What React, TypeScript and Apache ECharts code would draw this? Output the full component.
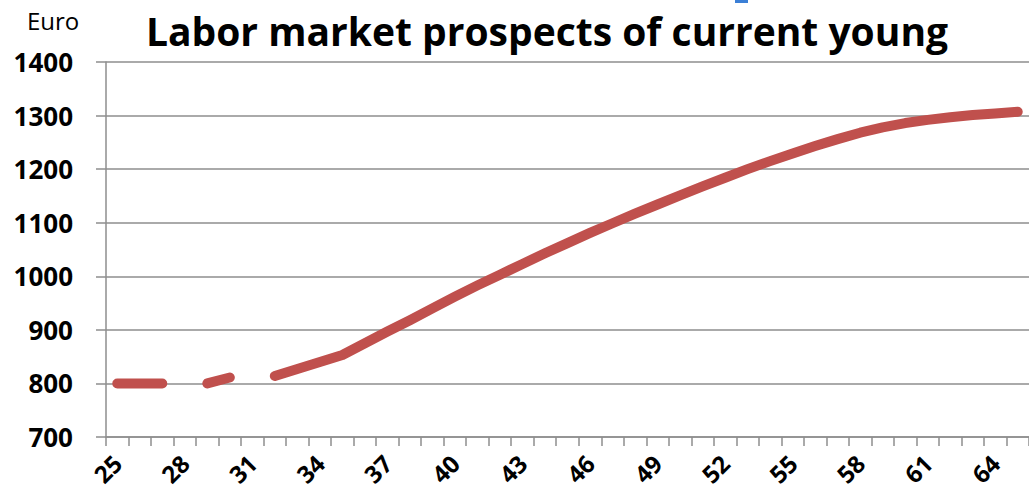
import React, { useEffect, useRef } from "react";
import * as echarts from "echarts";

const ages: string[] = [];
for (let a = 25; a <= 65; a++) ages.push(String(a));

// Monthly earnings (Euro) by age; null = gap in the line
const earnings: (number | null)[] = [
  800, 800, 800, null, 800, 811, null, 814, 827, 840,
  853, 875, 897, 918, 940, 962, 983, 1003, 1023, 1043,
  1062, 1081, 1099, 1117, 1134, 1151, 1168, 1184, 1200, 1215,
  1229, 1243, 1256, 1268, 1278, 1286, 1292, 1297, 1301, 1304,
  1307,
];

const titleText = "Labor market prospects of current young";
const unitText = "Euro";

export default function App() {
  const ref = useRef<HTMLDivElement>(null);
  useEffect(() => {
    if (!ref.current) return;
    const chart = echarts.init(ref.current, null, { renderer: "svg" });
    const gray = "#8e8e8e";
    const font = "'Open Sans', Lato, sans-serif";
    chart.setOption({
      animation: false,
      backgroundColor: "#ffffff",
      title: {
        text: titleText,
        left: 542,
        textAlign: "center",
        top: 6,
        textStyle: { fontFamily: font, fontWeight: "bold", fontSize: 39, color: "#000" },
      },
      graphic: [
        {
          type: "text",
          left: 27,
          top: 8,
          style: { text: unitText, fontFamily: font, fontSize: 24, fill: "#000" },
        },
        {
          type: "rect",
          shape: { x: 735, y: 0, width: 13, height: 3 },
          style: { fill: "#3b7fd6" },
        },
      ],
      grid: { left: 106, top: 62, bottom: 58, right: -8, containLabel: false },
      xAxis: {
        type: "category",
        data: ages,
        boundaryGap: true,
        axisLine: { show: true, lineStyle: { color: gray, width: 1.5 } },
        axisTick: { show: true, interval: 0, length: 9, lineStyle: { color: gray, width: 1.5 } },
        axisLabel: {
          interval: 2,
          rotate: 45,
          margin: 22,
          fontFamily: font,
          fontWeight: "bold",
          fontSize: 24,
          color: "#000",
        },
        splitLine: { show: false },
      },
      yAxis: {
        type: "value",
        min: 700,
        max: 1400,
        interval: 100,
        axisLine: { show: true, lineStyle: { color: gray, width: 1.5 } },
        axisTick: { show: true, length: 10, lineStyle: { color: gray, width: 1.5 } },
        axisLabel: {
          margin: 33,
          fontFamily: font,
          fontWeight: "bold",
          fontSize: 26,
          color: "#000",
          formatter: (v: number) => String(v),
        },
        splitLine: { show: true, lineStyle: { color: gray, width: 1.5 } },
      },
      series: [
        {
          type: "line",
          data: earnings,
          connectNulls: false,
          showSymbol: false,
          symbol: "none",
          smooth: false,
          lineStyle: { color: "#C0504D", width: 10, cap: "round", join: "round" },
        },
      ],
    });
    return () => chart.dispose();
  }, []);
  return (
    <div
      ref={ref}
      style={{ position: "fixed", left: 0, top: 0, width: 1029, height: 495, overflow: "hidden" }}
    />
  );
}
